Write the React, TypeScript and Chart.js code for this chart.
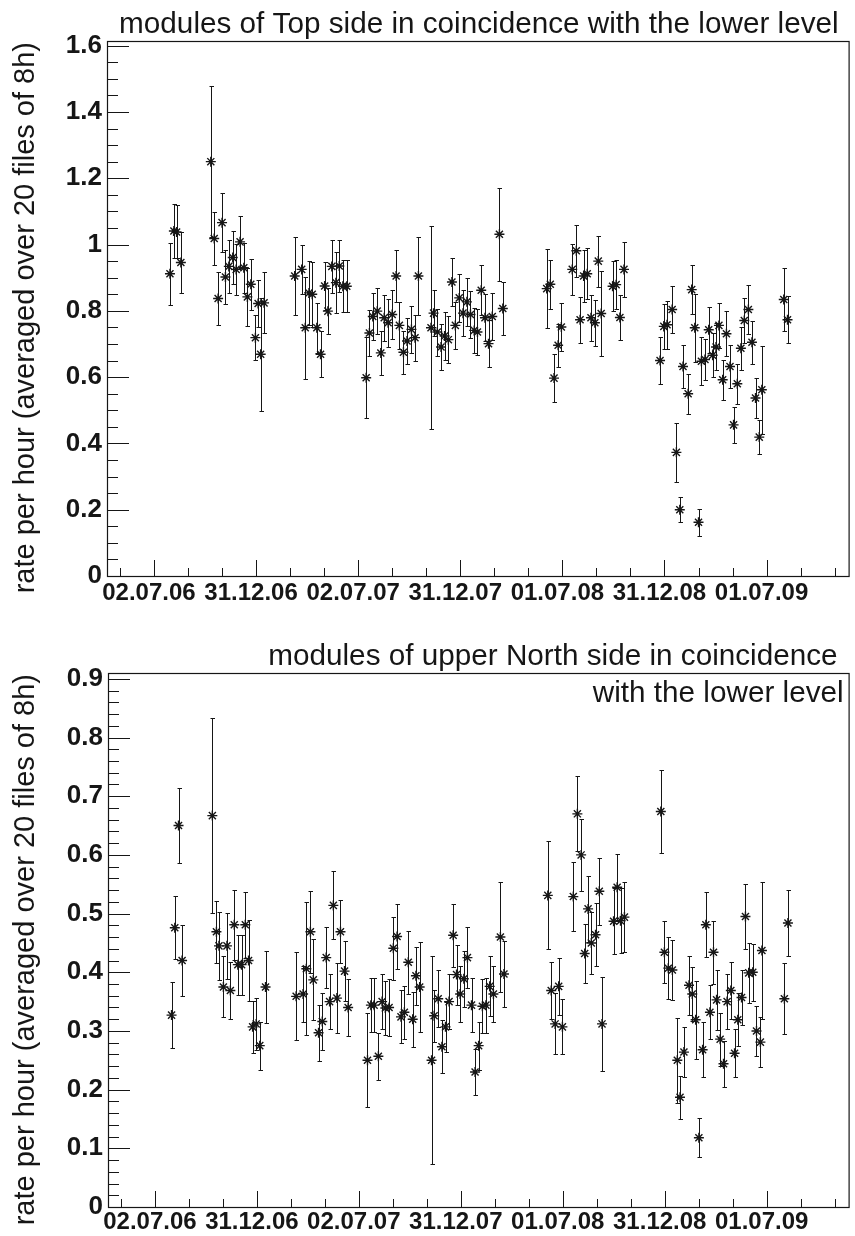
import React, { useEffect, useRef } from "react";
import { Chart, registerables } from "chart.js";

Chart.register(...registerables);

// ---- x axis (months since 02.07.06) ----
const xMin = -2.76;
const xMax = 40.82;
const xMajorTicks = [0, 6, 12, 18, 24, 30, 36];
const xMajorLabels = ["02.07.06", "31.12.06", "02.07.07", "31.12.07", "01.07.08", "31.12.08", "01.07.09"];
const xMinorTicks = [-2, 2, 4, 8, 10, 14, 16, 20, 22, 26, 28, 32, 34, 38, 40];

// ---- top panel ----
const topTitle = ["modules of Top side in coincidence with the lower level"];
const topYTicks = [0, 0.2, 0.4, 0.6, 0.8, 1, 1.2, 1.4, 1.6];
const topYLabels = ["0", "0.2", "0.4", "0.6", "0.8", "1", "1.2", "1.4", "1.6"];
const topYMax = 1.614;
const topYMinorStep = 0.05;
const topX = [0.94, 1.17, 1.33, 1.58, 3.34, 3.54, 3.77, 4.0, 4.2, 4.4, 4.63, 4.83, 5.06, 5.28, 5.49, 5.69, 5.96, 6.12, 6.27, 6.47,
  8.27, 8.68, 8.89, 9.11, 9.3, 9.57, 9.79, 10.03, 10.22, 10.45, 10.69, 10.89, 11.1, 11.33,
  12.47, 12.66, 12.86, 13.12, 13.33, 13.53, 13.76, 14.0, 14.23, 14.42, 14.66, 14.87, 15.13, 15.34, 15.54, 16.28, 16.43, 16.65, 16.87, 17.08, 17.3, 17.51, 17.71, 17.94, 18.16, 18.39, 18.6, 18.82, 19.01, 19.23, 19.45, 19.66, 19.88, 20.3, 20.5,
  23.08, 23.29, 23.51, 23.75, 23.94, 24.58, 24.82, 25.04, 25.25, 25.46, 25.68, 25.91, 26.11, 26.28, 26.95, 27.16, 27.38, 27.62,
  29.74, 29.96, 30.15, 30.45, 30.7, 30.9, 31.09, 31.39, 31.6, 31.78, 32.0, 32.17, 32.38, 32.6, 32.83, 33.03, 33.2, 33.42, 33.64, 33.85, 34.06, 34.28, 34.49, 34.69, 34.93, 35.14, 35.35, 35.57, 35.72, 37.01, 37.23];
const topY = [0.912, 1.041, 1.038, 0.946, 1.25, 1.018, 0.837, 1.066, 0.902, 0.934, 0.961, 0.925, 1.008, 0.93, 0.842, 0.88, 0.719, 0.822, 0.669, 0.824,
  0.905, 0.925, 0.749, 0.854, 0.85, 0.749, 0.669, 0.875, 0.799, 0.934, 0.885, 0.935, 0.874, 0.874,
  0.598, 0.733, 0.783, 0.799, 0.673, 0.779, 0.764, 0.789, 0.905, 0.756, 0.675, 0.709, 0.744, 0.719, 0.905, 0.749, 0.793, 0.736, 0.691, 0.724, 0.713, 0.887, 0.756, 0.839, 0.793, 0.827, 0.789, 0.741, 0.736, 0.862, 0.779, 0.701, 0.783, 1.031, 0.807,
  0.867, 0.88, 0.597, 0.696, 0.751, 0.925, 0.981, 0.773, 0.905, 0.912, 0.779, 0.764, 0.95, 0.792, 0.874, 0.879, 0.78, 0.925,
  0.65, 0.753, 0.758, 0.804, 0.373, 0.2, 0.632, 0.55, 0.864, 0.749, 0.162, 0.648, 0.653, 0.743, 0.666, 0.691, 0.756, 0.592, 0.731, 0.632, 0.456, 0.58, 0.687, 0.771, 0.804, 0.705, 0.537, 0.419, 0.562, 0.834, 0.773];
const topErr = [0.093, 0.082, 0.08, 0.092, 0.227, 0.081, 0.081, 0.088, 0.081, 0.079, 0.079, 0.077, 0.079, 0.076, 0.088, 0.077, 0.068, 0.07, 0.17, 0.092,
  0.119, 0.075, 0.154, 0.096, 0.098, 0.076, 0.069, 0.073, 0.07, 0.079, 0.092, 0.078, 0.078, 0.078,
  0.122, 0.068, 0.07, 0.069, 0.066, 0.069, 0.073, 0.073, 0.078, 0.07, 0.065, 0.07, 0.07, 0.069, 0.118, 0.306, 0.07, 0.071, 0.07, 0.071, 0.07, 0.073, 0.071, 0.072, 0.07, 0.073, 0.07, 0.069, 0.069, 0.075, 0.071, 0.07, 0.071, 0.14, 0.08,
  0.118, 0.074, 0.072, 0.065, 0.073, 0.077, 0.078, 0.07, 0.077, 0.077, 0.069, 0.069, 0.077, 0.128, 0.075, 0.075, 0.069, 0.082,
  0.07, 0.068, 0.072, 0.071, 0.088, 0.037, 0.065, 0.06, 0.073, 0.103, 0.04, 0.073, 0.063, 0.07, 0.067, 0.071, 0.067, 0.061, 0.068, 0.065, 0.054, 0.06, 0.065, 0.069, 0.073, 0.065, 0.059, 0.051, 0.133, 0.094, 0.071];

// ---- bottom panel ----
const bottomTitle = ["modules of upper North side in coincidence", "with the lower level"];
const bottomYTicks = [0, 0.1, 0.2, 0.3, 0.4, 0.5, 0.6, 0.7, 0.8, 0.9];
const bottomYLabels = ["0", "0.1", "0.2", "0.3", "0.4", "0.5", "0.6", "0.7", "0.8", "0.9"];
const bottomYMax = 0.91;
const bottomYMinorStep = 0.02;
const bottomX = [0.98, 1.17, 1.39, 1.6, 3.38, 3.62, 3.77, 4.03, 4.24, 4.44, 4.67, 4.88, 5.1, 5.32, 5.51, 5.75, 5.96, 6.17, 6.51,
  8.31, 8.72, 8.91, 9.15, 9.32, 9.63, 9.85, 10.08, 10.28, 10.5, 10.71, 10.92, 11.16, 11.37,
  12.51, 12.71, 12.9, 13.15, 13.37, 13.56, 13.78, 14.03, 14.25, 14.48, 14.68, 14.91, 15.17, 15.36, 15.58, 16.28, 16.43, 16.67, 16.89, 17.1, 17.31, 17.55, 17.75, 17.96, 18.18, 18.39, 18.63, 18.84, 19.05, 19.27, 19.48, 19.7, 19.92, 20.33, 20.54,
  23.12, 23.32, 23.55, 23.76, 23.98, 24.62, 24.86, 25.08, 25.29, 25.49, 25.68, 25.93, 26.15, 26.31, 26.99, 27.2, 27.4, 27.63,
  29.77, 29.98, 30.21, 30.45, 30.74, 30.9, 31.13, 31.43, 31.62, 31.82, 32.01, 32.23, 32.42, 32.66, 32.87, 33.05, 33.26, 33.46, 33.67, 33.89, 34.11, 34.3, 34.52, 34.75, 34.94, 35.18, 35.4, 35.63, 35.72, 37.04, 37.25];
const bottomY = [0.327, 0.476, 0.65, 0.42, 0.667, 0.469, 0.445, 0.375, 0.445, 0.369, 0.481, 0.413, 0.413, 0.481, 0.42, 0.307, 0.312, 0.275, 0.375,
  0.359, 0.363, 0.406, 0.469, 0.387, 0.297, 0.316, 0.425, 0.35, 0.514, 0.356, 0.469, 0.402, 0.34,
  0.25, 0.344, 0.344, 0.257, 0.35, 0.339, 0.34, 0.441, 0.461, 0.324, 0.332, 0.417, 0.32, 0.394, 0.375, 0.25, 0.326, 0.355, 0.273, 0.307, 0.35, 0.463, 0.396, 0.363, 0.389, 0.425, 0.344, 0.23, 0.275, 0.342, 0.344, 0.376, 0.363, 0.46, 0.397,
  0.531, 0.369, 0.312, 0.376, 0.307, 0.529, 0.67, 0.6, 0.432, 0.508, 0.45, 0.464, 0.538, 0.312, 0.487, 0.545, 0.488, 0.494,
  0.674, 0.434, 0.407, 0.404, 0.25, 0.187, 0.264, 0.378, 0.363, 0.319, 0.118, 0.268, 0.481, 0.332, 0.434, 0.353, 0.286, 0.244, 0.35, 0.369, 0.262, 0.319, 0.357, 0.495, 0.399, 0.4, 0.3, 0.281, 0.437, 0.355, 0.484];
const bottomErr = [0.056, 0.054, 0.064, 0.061, 0.166, 0.053, 0.058, 0.052, 0.056, 0.049, 0.06, 0.051, 0.051, 0.056, 0.069, 0.044, 0.045, 0.041, 0.062,
  0.075, 0.047, 0.113, 0.07, 0.069, 0.048, 0.048, 0.052, 0.047, 0.058, 0.059, 0.054, 0.051, 0.048,
  0.08, 0.046, 0.046, 0.04, 0.047, 0.046, 0.048, 0.054, 0.055, 0.045, 0.045, 0.054, 0.047, 0.049, 0.076, 0.177, 0.044, 0.049, 0.045, 0.043, 0.047, 0.054, 0.051, 0.047, 0.048, 0.052, 0.046, 0.039, 0.041, 0.046, 0.047, 0.051, 0.048, 0.094, 0.056,
  0.092, 0.048, 0.052, 0.049, 0.047, 0.059, 0.064, 0.061, 0.051, 0.056, 0.053, 0.054, 0.057, 0.08, 0.056, 0.057, 0.055, 0.06,
  0.071, 0.053, 0.053, 0.051, 0.072, 0.037, 0.042, 0.05, 0.046, 0.066, 0.033, 0.047, 0.055, 0.046, 0.054, 0.051, 0.045, 0.039, 0.047, 0.049, 0.041, 0.045, 0.047, 0.056, 0.051, 0.049, 0.043, 0.042, 0.117, 0.061, 0.056];

const yTitle = "rate per hour (averaged over 20 files of 8h)";

const FONT = '"Liberation Sans", Arial, Helvetica, sans-serif';
const INK = "#161616";

type PanelProps = {
  title: string[];
  titleRight: number[];
  titleBaseline: number[];
  xs: number[];
  ys: number[];
  errs: number[];
  yMax: number;
  yTicks: number[];
  yLabels: string[];
  yMinorStep: number;
  padTop: number;
  padRight: number;
  yAxisWidth: number;
  xAxisHeight: number;
  xLabelPad: number;
};

function Panel(p: PanelProps) {
  const ref = useRef<HTMLCanvasElement | null>(null);
  useEffect(() => {
    if (!ref.current) return;
    const rootStyle = {
      id: "rootStyle",
      beforeDatasetsDraw(chart: any) {
        const { ctx, scales } = chart;
        const xs = scales.x;
        const ysc = scales.y;
        ctx.save();
        ctx.strokeStyle = INK;
        ctx.lineWidth = 1;
        ctx.beginPath();
        for (let i = 0; i < p.xs.length; i++) {
          const px = Math.round(xs.getPixelForValue(p.xs[i])) + 0.5;
          const pt = Math.round(ysc.getPixelForValue(p.ys[i] + p.errs[i])) + 0.5;
          const pb = Math.round(ysc.getPixelForValue(p.ys[i] - p.errs[i])) + 0.5;
          ctx.moveTo(px, pt);
          ctx.lineTo(px, pb);
          ctx.moveTo(px - 2, pt);
          ctx.lineTo(px + 2.5, pt);
          ctx.moveTo(px - 2, pb);
          ctx.lineTo(px + 2.5, pb);
        }
        ctx.stroke();
        ctx.restore();
      },
      afterDraw(chart: any) {
        const { ctx, chartArea: a, scales } = chart;
        const xs = scales.x;
        const ysc = scales.y;
        ctx.save();
        ctx.strokeStyle = INK;
        ctx.lineWidth = 1.2;
        ctx.strokeRect(a.left + 0.5, a.top + 0.5, a.right - a.left, a.bottom - a.top);
        ctx.lineWidth = 1;
        ctx.beginPath();
        for (const v of xMajorTicks) {
          const px = Math.round(xs.getPixelForValue(v)) + 0.5;
          ctx.moveTo(px, a.bottom);
          ctx.lineTo(px, a.bottom - 16);
        }
        for (const v of xMinorTicks) {
          const px = Math.round(xs.getPixelForValue(v)) + 0.5;
          ctx.moveTo(px, a.bottom);
          ctx.lineTo(px, a.bottom - 8);
        }
        for (const v of p.yTicks) {
          const py = Math.round(ysc.getPixelForValue(v)) + 0.5;
          ctx.moveTo(a.left, py);
          ctx.lineTo(a.left + 22, py);
        }
        const nMinor = Math.floor(p.yMax / p.yMinorStep + 1e-6);
        for (let k = 0; k <= nMinor; k++) {
          const v = k * p.yMinorStep;
          const py = Math.round(ysc.getPixelForValue(v)) + 0.5;
          ctx.moveTo(a.left, py);
          ctx.lineTo(a.left + 11, py);
        }
        ctx.stroke();

        ctx.fillStyle = INK;
        ctx.font = `29.7px ${FONT}`;
        ctx.textAlign = "right";
        ctx.textBaseline = "alphabetic";
        p.title.forEach((line, i) => {
          ctx.fillText(line, a.right - p.titleRight[i], p.titleBaseline[i]);
        });

        ctx.save();
        ctx.font = `29px ${FONT}`;
        ctx.translate(34, a.top + 1);
        ctx.rotate(-Math.PI / 2);
        ctx.textAlign = "right";
        ctx.fillText(yTitle, 0, 0);
        ctx.restore();
        ctx.restore();
      },
    };

    const xTickFont = { family: FONT, size: 24, weight: "bold" as const };
    const yTickFont = { family: FONT, size: 26, weight: "bold" as const };
    const chart = new Chart(ref.current, {
      type: "scatter",
      data: {
        datasets: [
          {
            data: p.xs.map((x, i) => ({ x, y: p.ys[i] })),
            pointStyle: "star",
            pointRadius: 5,
            pointHoverRadius: 5,
            borderColor: INK,
            backgroundColor: INK,
            borderWidth: 1.4,
            showLine: false,
          },
        ],
      },
      options: {
        animation: false,
        responsive: false,
        events: [],
        layout: { padding: { top: p.padTop, right: p.padRight, left: 0, bottom: 0 } },
        plugins: { legend: { display: false }, tooltip: { enabled: false }, title: { display: false } },
        scales: {
          x: {
            type: "linear",
            min: xMin,
            max: xMax,
            grid: { display: false, drawTicks: false },
            border: { display: false },
            afterBuildTicks: (s: any) => {
              s.ticks = xMajorTicks.map((v) => ({ value: v }));
            },
            afterFit: (s: any) => {
              s.height = p.xAxisHeight;
            },
            ticks: {
              autoSkip: false,
              maxRotation: 0,
              minRotation: 0,
              padding: p.xLabelPad,
              labelOffset: -5,
              color: INK,
              font: xTickFont,
              callback: (_v: any, i: number) => xMajorLabels[i],
            },
          },
          y: {
            type: "linear",
            min: 0,
            max: p.yMax,
            grid: { display: false, drawTicks: false },
            border: { display: false },
            afterBuildTicks: (s: any) => {
              s.ticks = p.yTicks.map((v) => ({ value: v }));
            },
            afterFit: (s: any) => {
              s.width = p.yAxisWidth;
            },
            ticks: {
              autoSkip: false,
              padding: 5,
              color: INK,
              font: yTickFont,
              callback: (_v: any, i: number) => p.yLabels[i],
            },
          },
        },
      },
      plugins: [rootStyle],
    } as any);
    return () => chart.destroy();
  }, []);
  return <canvas ref={ref} width={855} height={618} style={{ display: "block", width: 855, height: 618 }} />;
}

export default function App() {
  return (
    <div style={{ position: "absolute", left: 0, top: 0, width: 855, height: 1236, background: "#fff" }}>
      <Panel
        title={topTitle}
        titleRight={[10]}
        titleBaseline={[33]}
        xs={topX}
        ys={topY}
        errs={topErr}
        yMax={topYMax}
        yTicks={topYTicks}
        yLabels={topYLabels}
        yMinorStep={topYMinorStep}
        padTop={41}
        padRight={5}
        yAxisWidth={107}
        xAxisHeight={42}
        xLabelPad={3}
      />
      <Panel
        title={bottomTitle}
        titleRight={[11, 5]}
        titleBaseline={[47, 84]}
        xs={bottomX}
        ys={bottomY}
        errs={bottomErr}
        yMax={bottomYMax}
        yTicks={bottomYTicks}
        yLabels={bottomYLabels}
        yMinorStep={bottomYMinorStep}
        padTop={55}
        padRight={4}
        yAxisWidth={108}
        xAxisHeight={29}
        xLabelPad={1}
      />
    </div>
  );
}
